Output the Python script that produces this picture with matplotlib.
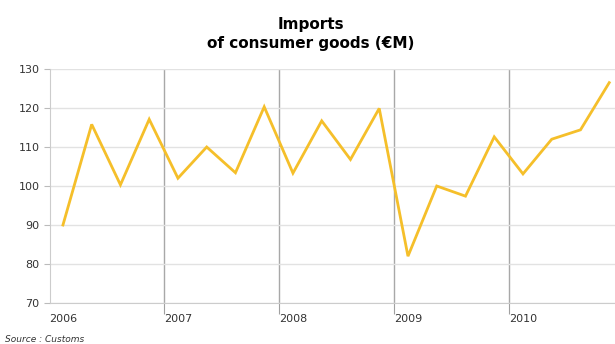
import matplotlib
matplotlib.use("Agg")
import matplotlib.pyplot as plt

# Quarterly imports of consumer goods, 2006-2010
years = ["2006", "2007", "2008", "2009", "2010"]
values = [90, 115.8, 100.3, 117.1,
          102, 110, 103.4, 120.3,
          103.3, 116.7, 106.8, 119.9,
          82, 100, 97.4, 112.6,
          103.1, 112, 114.4, 126.5]
yticks = [70, 80, 90, 100, 110, 120, 130]

fig = plt.figure(figsize=(6.15, 3.44), dpi=100)
ax = fig.add_axes([50 / 615, 1 - 303 / 344, 565 / 615, 234 / 344])

x = list(range(len(values)))
ax.plot(x, values, color="#f5bf2a", linewidth=2, solid_joinstyle="miter", zorder=3)

ax.set_xlim(-0.45, 19.2)
ax.set_ylim(70, 130)
ax.set_yticks(yticks)

# year separators on major ticks, year labels on minor ticks
ax.set_xticks([3.5, 7.5, 11.5, 15.5])
ax.set_xticklabels([])
ax.set_xticks([4 * i for i in range(len(years))], minor=True)
ax.set_xticklabels(years, minor=True)
ax.tick_params(axis="x", which="major", length=8, color="#a0a0a0")
ax.tick_params(axis="x", which="minor", length=0, pad=8, labelsize=8, labelcolor="#333333")
ax.tick_params(axis="y", length=4, color="#bbbbbb", labelsize=8, labelcolor="#333333")

ax.grid(axis="y", color="#e2e2e2", linewidth=1)
ax.grid(axis="x", which="major", color="#a8a8a8", linewidth=1)
ax.set_axisbelow(True)

for side in ["top", "right"]:
    ax.spines[side].set_visible(False)
ax.spines["left"].set_color("#cccccc")
ax.spines["bottom"].set_color("#cccccc")

fig.text(0.505, 1 - 34 / 344, "Imports\nof consumer goods (€M)", ha="center", va="center",
         fontsize=11, fontweight="bold", linespacing=1.3)
fig.text(5 / 615, 1 - 339 / 344, "Source : Customs", ha="left", va="center",
         fontsize=6.5, style="italic", color="#333333")

fig.savefig("out.png", dpi=100)
